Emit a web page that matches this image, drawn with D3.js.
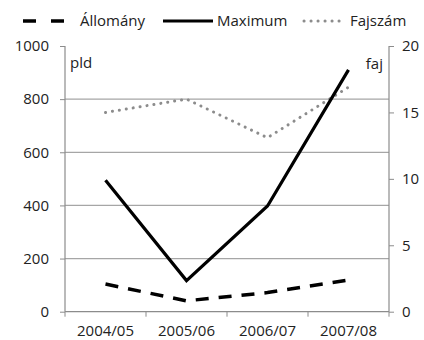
<!DOCTYPE html>
<html><head><meta charset="utf-8">
<script src="https://cdn.jsdelivr.net/npm/d3@7"></script>
<style>body{margin:0;background:#fff}text{font-family:"Open Sans",sans-serif;fill:#222}</style>
</head><body><svg id="c" width="424" height="340"></svg>
<script>
const categories = ["2004/05","2005/06","2006/07","2007/08"];
const allomany = [104, 41, 72, 119];
const maximum = [495, 117, 398, 910];
const fajszam = [15, 16, 13.1, 16.9];
const leftTicks = [0,200,400,600,800,1000];
const rightTicks = [0,5,10,15,20];

const svg = d3.select("#c");
const m = {l:65, r:389, t:46, b:311.7};
const fs = "15px";
const x = d3.scaleBand().domain(categories).range([m.l, m.r]);
const yL = d3.scaleLinear().domain([0,1000]).range([m.b, m.t]);
const yR = d3.scaleLinear().domain([0,20]).range([m.b, m.t]);
const grid = "#a6a6a6", axisC = "#8c8c8c";
svg.append("g").selectAll("line").data(leftTicks.filter(d=>d>0 && d<1000)).join("line")
  .attr("x1",m.l).attr("x2",m.r).attr("y1",d=>yL(d)).attr("y2",d=>yL(d))
  .attr("stroke",grid).attr("stroke-width",1.2);
const gL = svg.append("g").attr("transform",`translate(${m.l},0)`)
  .call(d3.axisLeft(yL).tickValues(leftTicks).tickSize(5).tickPadding(11).tickFormat(d3.format("d")));
const gR = svg.append("g").attr("transform",`translate(${m.r},0)`)
  .call(d3.axisRight(yR).tickValues(rightTicks).tickSize(5).tickPadding(8));
const gB = svg.append("g").attr("transform",`translate(0,${m.b})`)
  .call(d3.axisBottom(x).tickSize(0).tickPadding(14));
gB.selectAll(".tick").append("line").attr("x1",-x.bandwidth()/2).attr("x2",-x.bandwidth()/2).attr("y2",5).attr("stroke",axisC);
gB.append("line").attr("x1",m.r).attr("x2",m.r).attr("y2",5).attr("stroke",axisC);
for (const g of [gL,gR,gB]) {
  g.select(".domain").attr("stroke",axisC).attr("stroke-width",1.2);
  g.selectAll(".tick line").attr("stroke",axisC);
  g.selectAll("text").style("font-size",fs).attr("fill","#222");
}
gB.select(".domain").attr("d",`M${m.l},0H${m.r}`);
gL.select(".domain").attr("d",`M0,${m.t}V${m.b}`);
gR.select(".domain").attr("d",`M0,${m.t}V${m.b}`);

const cx = d => x(d)+x.bandwidth()/2;
const lineL = d3.line().x(d=>cx(d[0])).y(d=>yL(d[1]));
const lineR = d3.line().x(d=>cx(d[0])).y(d=>yR(d[1]));
svg.append("path").datum(categories.map((c,i)=>[c,fajszam[i]])).attr("d",lineR)
  .attr("fill","none").attr("stroke","#8c8c8c").attr("stroke-width",3)
  .attr("stroke-dasharray","0.1,6.9").attr("stroke-linecap","round");
svg.append("path").datum(categories.map((c,i)=>[c,allomany[i]])).attr("d",lineL)
  .attr("fill","none").attr("stroke","#000").attr("stroke-width",3.5)
  .attr("stroke-dasharray","13,10");
svg.append("path").datum(categories.map((c,i)=>[c,maximum[i]])).attr("d",lineL)
  .attr("fill","none").attr("stroke","#000").attr("stroke-width",3.2);

svg.append("text").attr("x",70).attr("y",68).text("pld").style("font-size",fs);
svg.append("text").attr("x",383).attr("y",69).attr("text-anchor","end").text("faj").style("font-size",fs);

const ly = 21;
const leg = svg.append("g");
leg.append("line").attr("x1",23).attr("x2",64).attr("y1",ly).attr("y2",ly).attr("stroke","#000").attr("stroke-width",3.5).attr("stroke-dasharray","13,15");
leg.append("text").attr("x",80).attr("y",ly+5).text("Állomány").style("font-size",fs);
leg.append("line").attr("x1",163).attr("x2",213).attr("y1",ly).attr("y2",ly).attr("stroke","#000").attr("stroke-width",3.2);
leg.append("text").attr("x",217).attr("y",ly+5).text("Maximum").style("font-size",fs);
leg.append("line").attr("x1",304).attr("x2",340).attr("y1",ly).attr("y2",ly).attr("stroke","#8c8c8c").attr("stroke-width",3).attr("stroke-dasharray","0.1,6.9").attr("stroke-linecap","round");
leg.append("text").attr("x",350).attr("y",ly+5).text("Fajszám").style("font-size",fs);
</script></body></html>
